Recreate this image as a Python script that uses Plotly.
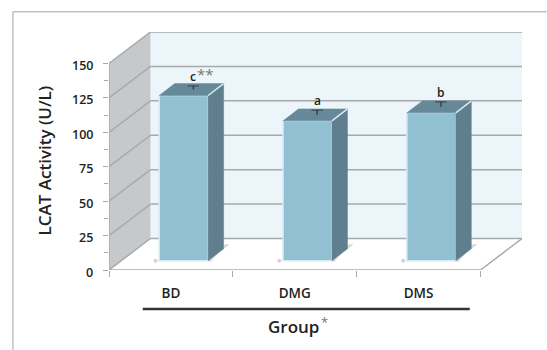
import plotly.graph_objects as go

# Data
groups = ["BD", "DMG", "DMS"]
lcat_activity = [120.0, 101.6, 107.4]
lcat_error = [2.6, 3.4, 3.6]
significance = ["c", "a", "b"]
y_ticks = [0, 25, 50, 75, 100, 125, 150]
y_minor_ticks = [12.5, 37.5, 62.5, 87.5, 112.5, 137.5]

# Pseudo-3D geometry, in axis units
W, H = 547, 350
LEFT, RIGHT, TOP, BOTTOM = 108.7, 522.3, 31.7, 270.0
X_MIN, X_FRONT_END = -0.5, 2.5
WALL_DX, WALL_DY = 0.335, 22.9      # depth of the box
BAR_SHIFT_X, BAR_BASE = 0.103, 6.75 # bar front plane inside the box
BAR_WIDTH = 0.395
BAR_DX, BAR_DY = 0.125, 8.7         # depth of each bar
Y_MAX = 150

FRONT, SIDE, TOPFACE = "#92c0d3", "#5f7f8f", "#66899a"
WALL_LEFT, WALL_BACK, GRID = "#c5c9cb", "#ecf5f9", "#a9a9a9"
SHADOW = "#d8d8d8"
TEXT = "#222222"
FONT = "Open Sans"


def poly_path(points):
    return "M " + " L ".join(f"{x},{y}" for x, y in points) + " Z"


def data_shape(points, fill):
    return dict(type="path", path=poly_path(points), xref="x", yref="y", layer="below",
                fillcolor=fill, line=dict(width=0, color=fill))


def data_line(x0, y0, x1, y1, color=GRID, width=1.5):
    return dict(type="line", x0=x0, y0=y0, x1=x1, y1=y1, xref="x", yref="y",
                layer="below", line=dict(color=color, width=width))


def paper_x(px):
    return (px - LEFT) / (RIGHT - LEFT)


def paper_y(py):
    return (BOTTOM - py) / (BOTTOM - TOP)


def label(px, py, text, size, color=TEXT, weight=600, angle=0):
    return dict(x=paper_x(px), y=paper_y(py), xref="paper", yref="paper", text=text,
                showarrow=False, xanchor="center", yanchor="middle", textangle=angle,
                font=dict(family=FONT, size=size, color=color, weight=weight))


x_end = X_FRONT_END + WALL_DX
y_end = Y_MAX + WALL_DY

# Box walls, grid lines and floor edges
shapes = [
    data_shape([(X_MIN + WALL_DX, WALL_DY), (x_end, WALL_DY), (x_end, y_end), (X_MIN + WALL_DX, y_end)], WALL_BACK),
    data_shape([(X_MIN, 0), (X_MIN + WALL_DX, WALL_DY), (X_MIN + WALL_DX, y_end), (X_MIN, Y_MAX)], WALL_LEFT),
]
for v in y_ticks:
    shapes.append(data_line(X_MIN, v, X_MIN + WALL_DX, v + WALL_DY))
    shapes.append(data_line(X_MIN + WALL_DX, v + WALL_DY, x_end, v + WALL_DY))
shapes += [
    data_line(X_MIN, 0, X_FRONT_END, 0),
    data_line(X_FRONT_END, 0, x_end, WALL_DY),
    data_line(X_MIN, 0, X_MIN, Y_MAX),
    # frame of the panel
    dict(type="line", xref="paper", yref="paper", x0=paper_x(12.5), x1=paper_x(547),
         y0=paper_y(11.5), y1=paper_y(11.5), line=dict(color="#a0a0a0", width=1)),
    dict(type="line", xref="paper", yref="paper", x0=paper_x(12.5), x1=paper_x(12.5),
         y0=paper_y(11.5), y1=paper_y(350), line=dict(color="#a0a0a0", width=1)),
    # rule under the category labels
    dict(type="line", xref="paper", yref="paper", x0=paper_x(142.5), x1=paper_x(470),
         y0=paper_y(309), y1=paper_y(309), line=dict(color="#333333", width=2.5)),
]

fig = go.Figure()
positions = [i + BAR_SHIFT_X for i in range(len(groups))]

fig.add_trace(go.Bar(
    x=positions, y=lcat_activity, base=BAR_BASE, width=BAR_WIDTH,
    marker=dict(color=FRONT, line=dict(color="#d6eaf1", width=1.5)),
    showlegend=False,
))

annotations = []
half = BAR_WIDTH / 2
for pos, value, err, mark in zip(positions, lcat_activity, lcat_error, significance):
    top = BAR_BASE + value
    left, right = pos - half, pos + half
    # floor shadow, right face and top face of the bar
    faces = [
        ([right, right + BAR_DX * 1.35, right + BAR_DX * 1.1, right + 0.02, right],
         [BAR_BASE, BAR_BASE + BAR_DY * 1.35, BAR_BASE + BAR_DY * 1.35, BAR_BASE - 0.6, BAR_BASE],
         SHADOW),
        ([right, right + BAR_DX, right + BAR_DX, right, right],
         [BAR_BASE, BAR_BASE + BAR_DY, top + BAR_DY, top, BAR_BASE],
         SIDE),
        ([left, left + BAR_DX, right + BAR_DX, right, left],
         [top, top + BAR_DY, top + BAR_DY, top, top],
         TOPFACE),
    ]
    for xs, ys, fill in faces:
        fig.add_trace(go.Scatter(x=xs, y=ys, mode="lines", fill="toself", fillcolor=fill,
                                 line=dict(color=fill, width=0.5), hoverinfo="skip",
                                 showlegend=False))
    # light edge where the top and side faces meet
    fig.add_trace(go.Scatter(x=[right, right + BAR_DX], y=[top, top + BAR_DY], mode="lines",
                             line=dict(color="#d6eaf1", width=1.5), hoverinfo="skip",
                             showlegend=False))
    # faint tint on the floor at the bar's front-left corner
    fig.add_trace(go.Scatter(x=[left - 0.03], y=[BAR_BASE], mode="markers",
                             marker=dict(size=4, color="#d9cce6"), hoverinfo="skip",
                             showlegend=False))
    # upper whisker with a single cap, rising from the top face
    centre = pos + BAR_DX / 2 + 0.015
    level = top + BAR_DY / 2
    fig.add_trace(go.Scatter(
        x=[centre, centre], y=[level, level + err], mode="lines+markers",
        line=dict(color="#222222", width=1),
        marker=dict(symbol="line-ew", size=[0, 8], color="#222222",
                    line=dict(color="#222222", width=1)),
        hoverinfo="skip", showlegend=False))
    annotations.append(dict(x=centre, y=level + err, xref="x", yref="y", text=mark,
                            showarrow=False, xanchor="center", yanchor="bottom", yshift=-1,
                            font=dict(family=FONT, size=12, color=TEXT, weight=600)))

# Value-axis labels sit slightly below their tick marks
for v in y_ticks:
    annotations.append(dict(x=paper_x(95), y=v, xref="paper", yref="y", text=str(v),
                            showarrow=False, xanchor="right", yanchor="middle", yshift=-2,
                            font=dict(family=FONT, size=12.5, color=TEXT, weight=600)))

annotations += [
    label(205, 74, "**", 15, color="#777777", weight=400),
    label(293, 327, "Group", 17),
    label(325, 322, "*", 13, color="#777777", weight=400),
    label(44, 160, "LCAT Activity (U/L)", 17, angle=-90),
]

fig.update_layout(
    width=W, height=H, autosize=False,
    margin=dict(l=LEFT, r=W - RIGHT, t=TOP, b=H - BOTTOM, pad=0, autoexpand=False),
    paper_bgcolor="white", plot_bgcolor="white",
    showlegend=False, shapes=shapes, annotations=annotations,
    xaxis=dict(
        range=[X_MIN, x_end], showgrid=False, zeroline=False, showline=False,
        tickmode="array", tickvals=list(range(len(groups))), ticktext=groups,
        ticks="", ticklabelstandoff=13,
        tickfont=dict(family=FONT, size=13.5, color=TEXT, weight=600),
        minor=dict(tickmode="array", tickvals=[-0.5, 0.5, 1.5, 2.5], ticks="outside",
                   ticklen=6, tickcolor=GRID, tickwidth=1, showgrid=False),
    ),
    yaxis=dict(
        range=[0, y_end], showgrid=False, zeroline=False, showline=False,
        tickmode="array", tickvals=y_ticks, ticks="outside", ticklen=5,
        tickcolor=GRID, tickwidth=1, showticklabels=False,
        minor=dict(tickmode="array", tickvals=y_minor_ticks, ticks="outside",
                   ticklen=4, tickcolor=GRID, tickwidth=1, showgrid=False),
    ),
)

fig.write_html("out.html", config=dict(displayModeBar=False))
